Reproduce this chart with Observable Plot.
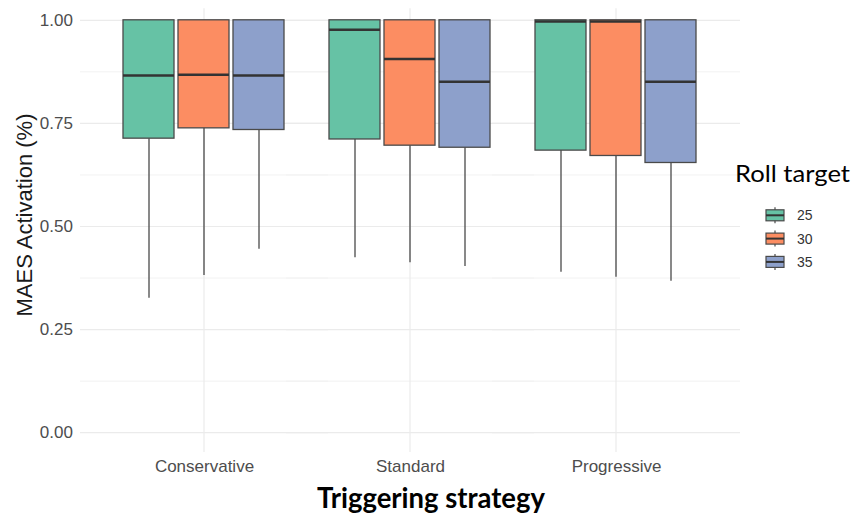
<!DOCTYPE html>
<html>
<head>
<meta charset="utf-8">
<script src="https://cdn.jsdelivr.net/npm/d3@7"></script>
<script src="https://cdn.jsdelivr.net/npm/@observablehq/plot@0.6"></script>
<style>
  html, body { margin: 0; padding: 0; background: #fff; }
  #chart { position: relative; width: 853px; height: 517px; overflow: hidden; background: #fff; }
  #chart > svg { position: absolute; left: 0; top: 0; }
</style>
</head>
<body>
<div id="chart"></div>
<script>
// Triggering strategies on the x axis, roll targets as the dodged groups
const strategies = ["Conservative", "Standard", "Progressive"];
const rollTargets = ["25", "30", "35"];
const boxColors = ["#66C2A5", "#FC8D62", "#8DA0CB"];

// Box-plot summaries, one row per strategy, one column per roll target
const whiskerLow = [
  [0.326, 0.381, 0.445],
  [0.424, 0.412, 0.403],
  [0.389, 0.377, 0.367]
];
const lowerQuartile = [
  [0.713, 0.738, 0.734],
  [0.711, 0.696, 0.691],
  [0.684, 0.671, 0.654]
];
const medianValue = [
  [0.866, 0.868, 0.866],
  [0.977, 0.906, 0.851],
  [0.997, 0.997, 0.851]
];
const upperQuartile = [
  [1, 1, 1],
  [1, 1, 1],
  [1, 1, 1]
];
const whiskerHigh = [
  [1, 1, 1],
  [1, 1, 1],
  [1, 1, 1]
];

const yTicks = [0, 0.25, 0.5, 0.75, 1];
const yMinorTicks = [0.125, 0.375, 0.625, 0.875];

const rows = strategies.flatMap((strategy, i) =>
  rollTargets.map((target, j) => ({
    strategy,
    target,
    low: whiskerLow[i][j],
    q1: lowerQuartile[i][j],
    median: medianValue[i][j],
    q3: upperQuartile[i][j],
    high: whiskerHigh[i][j]
  }))
);

const W = 853, H = 517;
const boxStroke = "#4a4a4a";
// the horizontal grid runs on past the outer facets to the panel edges
const gridReach = -21;

const plot = Plot.plot({
  width: W,
  height: 480,
  marginLeft: 80,
  marginRight: 113,
  marginTop: 0,
  marginBottom: 28,
  style: {
    fontFamily: '"Liberation Sans", Arial, sans-serif',
    fontSize: "17px",
    color: "#4d4d4d",
    background: "transparent"
  },
  facet: {data: rows, x: "strategy"},
  fx: {domain: strategies, paddingInner: 0, paddingOuter: 0.1, axis: "bottom", label: null, tickSize: 0, tickPadding: 7},
  x: {domain: rollTargets, paddingInner: 0.07, paddingOuter: 0.4, axis: null},
  y: {domain: [-0.048, 1.048], ticks: yTicks, tickFormat: ".2f", tickSize: 0, tickPadding: 28.6, label: null},
  color: {domain: rollTargets, range: boxColors},
  marks: [
    // panel grid
    Plot.ruleY(yMinorTicks, {stroke: "#f2f2f2", strokeWidth: 1, insetLeft: gridReach, insetRight: gridReach}),
    Plot.ruleY(yTicks, {stroke: "#ebebeb", strokeWidth: 1.2, insetLeft: gridReach, insetRight: gridReach}),
    Plot.ruleX([rollTargets[1]], {x: d => d, y1: -0.048, y2: 1.028, stroke: "#ebebeb", strokeWidth: 1.2}),
    // whiskers
    Plot.ruleX(rows, {x: "target", y1: "low", y2: "q1", stroke: boxStroke, strokeWidth: 1.3}),
    Plot.ruleX(rows, {x: "target", y1: "q3", y2: "high", stroke: boxStroke, strokeWidth: 1.3}),
    // boxes
    Plot.barY(rows, {x: "target", y1: "q1", y2: "q3", fill: "target", stroke: boxStroke, strokeWidth: 1.3}),
    // medians
    Plot.tickY(rows, {x: "target", y: "median", stroke: "#333", strokeWidth: 2.6})
  ]
});

const chart = document.getElementById("chart");
chart.appendChild(plot);

// titles and legend
const overlay = d3.create("svg")
  .attr("width", W)
  .attr("height", H)
  .style("pointer-events", "none");

overlay.append("text")
  .attr("transform", "translate(24,215) rotate(-90)")
  .attr("text-anchor", "middle")
  .attr("dominant-baseline", "central")
  .attr("fill", "#1a1a1a")
  .style("font", '22px "Liberation Sans", Arial, sans-serif')
  .text("MAES Activation (%)");

overlay.append("text")
  .attr("x", 431)
  .attr("y", 508)
  .attr("text-anchor", "middle")
  .attr("textLength", 228)
  .attr("lengthAdjust", "spacingAndGlyphs")
  .attr("fill", "#000")
  .style("font", "700 28px Lato, sans-serif")
  .text("Triggering strategy");

const legend = overlay.append("g");
legend.append("text")
  .attr("x", 735)
  .attr("y", 182)
  .attr("textLength", 115)
  .attr("lengthAdjust", "spacingAndGlyphs")
  .attr("fill", "#000")
  .style("font", "23px Lato, sans-serif")
  .text("Roll target");

rollTargets.forEach((target, j) => {
  const cy = 215.3 + j * 23.3;
  const g = legend.append("g");
  g.append("line")
    .attr("x1", 775).attr("x2", 775).attr("y1", cy - 8).attr("y2", cy + 8)
    .attr("stroke", boxStroke).attr("stroke-width", 1.2);
  g.append("rect")
    .attr("x", 766).attr("y", cy - 5.5).attr("width", 18).attr("height", 11)
    .attr("fill", boxColors[j]).attr("stroke", boxStroke).attr("stroke-width", 1.2);
  g.append("line")
    .attr("x1", 766).attr("x2", 784).attr("y1", cy).attr("y2", cy)
    .attr("stroke", "#333").attr("stroke-width", 2);
  g.append("text")
    .attr("x", 797).attr("y", cy)
    .attr("dominant-baseline", "central")
    .attr("fill", "#333")
    .style("font", '14px "Liberation Sans", Arial, sans-serif')
    .text(target);
});

chart.appendChild(overlay.node());
</script>
</body>
</html>
